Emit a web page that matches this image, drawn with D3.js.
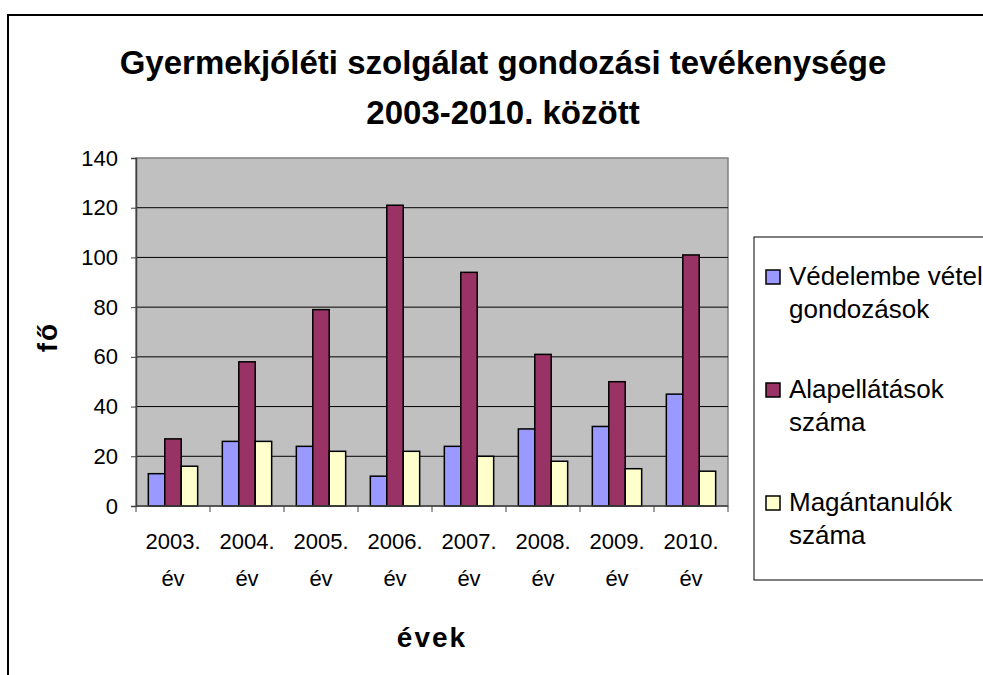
<!doctype html>
<html lang="hu">
<head>
<meta charset="utf-8">
<title>Gyermekjóléti szolgálat</title>
<script src="https://d3js.org/d3.v7.min.js"></script>
<style>
  body { margin: 0; background: #fff; }
  svg text { font-family: "Liberation Sans", Arial, sans-serif; fill: #000; }
</style>
</head>
<body>
<div id="chart"></div>
<script>
// data
var years = ["2003.", "2004.", "2005.", "2006.", "2007.", "2008.", "2009.", "2010."];
var seriesNames = ["Védelembe vétel gondozások", "Alapellátások száma", "Magántanulók száma"];
var vedelembe = [13, 26, 24, 12, 24, 31, 32, 45];
var alapellatas = [27, 58, 79, 121, 94, 61, 50, 101];
var magantanulo = [16, 26, 22, 22, 20, 18, 15, 14];
var yTicks = [0, 20, 40, 60, 80, 100, 120, 140];
var colors = ["#9999ff", "#993366", "#ffffcc"];
var legendLines = [["Védelembe vétel", "gondozások"], ["Alapellátások", "száma"], ["Magántanulók", "száma"]];

var seriesValues = [vedelembe, alapellatas, magantanulo];

var W = 983, H = 675;
var plot = {left: 136, right: 728, top: 158, bottom: 506};

var svg = d3.select("#chart").append("svg")
    .attr("width", W)
    .attr("height", H);

// outer chart frame (cut off at right and bottom)
svg.append("rect")
    .attr("x", 8).attr("y", 15)
    .attr("width", 1100).attr("height", 800)
    .attr("fill", "#fff")
    .attr("stroke", "#000")
    .attr("stroke-width", 2);

// title
var title = svg.append("text")
    .attr("text-anchor", "middle")
    .style("font-weight", "bold")
    .style("font-size", "33px");
title.append("tspan").attr("x", 503).attr("y", 74).text("Gyermekjóléti szolgálat gondozási tevékenysége");
title.append("tspan").attr("x", 503).attr("y", 124).text("2003-2010. között");

var x0 = d3.scaleBand()
    .domain(years)
    .range([plot.left, plot.right])
    .padding(0);

var x1 = d3.scaleBand()
    .domain(d3.range(seriesNames.length))
    .range([0, x0.bandwidth()])
    .paddingInner(0)
    .paddingOuter(0.75);

var y = d3.scaleLinear()
    .domain([0, 140])
    .range([plot.bottom, plot.top]);

// plot background
svg.append("rect")
    .attr("x", plot.left).attr("y", plot.top)
    .attr("width", plot.right - plot.left)
    .attr("height", plot.bottom - plot.top)
    .attr("fill", "#c0c0c0")
    .attr("stroke", "#808080")
    .attr("stroke-width", 1.5);

// gridlines
svg.append("g")
  .selectAll("line")
  .data(yTicks.filter(function(d) { return d > 0 && d < 140; }))
  .enter().append("line")
    .attr("x1", plot.left).attr("x2", plot.right)
    .attr("y1", function(d) { return y(d); })
    .attr("y2", function(d) { return y(d); })
    .attr("stroke", "#000")
    .attr("stroke-width", 1);

// bars
var groups = svg.append("g")
  .selectAll("g")
  .data(seriesValues)
  .enter().append("g")
    .attr("fill", function(d, i) { return colors[i]; });

groups.each(function(vals, si) {
  d3.select(this).selectAll("rect")
    .data(vals)
    .enter().append("rect")
      .attr("x", function(d, i) { return x0(years[i]) + x1(si); })
      .attr("y", function(d) { return y(d); })
      .attr("width", x1.bandwidth())
      .attr("height", function(d) { return y(0) - y(d); })
      .attr("stroke", "#000")
      .attr("stroke-width", 1.5);
});

// y axis
var yAxis = svg.append("g")
    .attr("transform", "translate(" + plot.left + ",0)")
    .call(d3.axisLeft(y).tickValues(yTicks).tickSize(5).tickPadding(13));
yAxis.select(".domain").attr("stroke", "#404040").attr("stroke-width", 1.5);
yAxis.selectAll(".tick line").attr("stroke", "#404040");
yAxis.selectAll(".tick text")
    .style("font-size", "22px")
    .style("font-family", "'Liberation Sans', Arial, sans-serif");

// x axis line and ticks at category boundaries
svg.append("line")
    .attr("x1", plot.left).attr("x2", plot.right)
    .attr("y1", plot.bottom).attr("y2", plot.bottom)
    .attr("stroke", "#404040").attr("stroke-width", 1.5);

var bounds = years.map(function(d) { return x0(d); }).concat([plot.right]);
svg.append("g")
  .selectAll("line")
  .data(bounds)
  .enter().append("line")
    .attr("x1", function(d) { return d; })
    .attr("x2", function(d) { return d; })
    .attr("y1", plot.bottom).attr("y2", plot.bottom + 6)
    .attr("stroke", "#404040");

// x labels, two lines each
var xl = svg.append("g")
  .selectAll("text")
  .data(years)
  .enter().append("text")
    .attr("text-anchor", "middle")
    .style("font-size", "22px");
xl.append("tspan")
    .attr("x", function(d) { return x0(d) + x0.bandwidth() / 2; })
    .attr("y", 549)
    .text(function(d) { return d; });
xl.append("tspan")
    .attr("x", function(d) { return x0(d) + x0.bandwidth() / 2; })
    .attr("y", 586)
    .text("év");

// axis titles
svg.append("text")
    .attr("x", 432).attr("y", 647)
    .attr("text-anchor", "middle")
    .style("font-weight", "bold")
    .style("font-size", "28px")
    .style("letter-spacing", "2px")
    .text("évek");

svg.append("text")
    .attr("transform", "translate(57,337) rotate(-90)")
    .attr("text-anchor", "middle")
    .style("font-weight", "bold")
    .style("font-size", "28px")
    .style("letter-spacing", "2px")
    .text("fő");

// legend
svg.append("rect")
    .attr("x", 754).attr("y", 237)
    .attr("width", 300).attr("height", 343)
    .attr("fill", "#fff")
    .attr("stroke", "#000")
    .attr("stroke-width", 1);

var leg = svg.append("g")
  .selectAll("g")
  .data(seriesNames)
  .enter().append("g")
    .attr("transform", function(d, i) { return "translate(0," + (i * 113) + ")"; });

leg.append("rect")
    .attr("x", 766).attr("y", 270)
    .attr("width", 14).attr("height", 14)
    .attr("fill", function(d, i) { return colors[i]; })
    .attr("stroke", "#000")
    .attr("stroke-width", 1.5);

var lt = leg.append("text")
    .style("font-size", "26px");
lt.append("tspan")
    .attr("x", 789).attr("y", 285)
    .text(function(d, i) { return legendLines[i][0]; });
lt.append("tspan")
    .attr("x", 789).attr("y", 318)
    .text(function(d, i) { return legendLines[i][1]; });
</script>
</body>
</html>
